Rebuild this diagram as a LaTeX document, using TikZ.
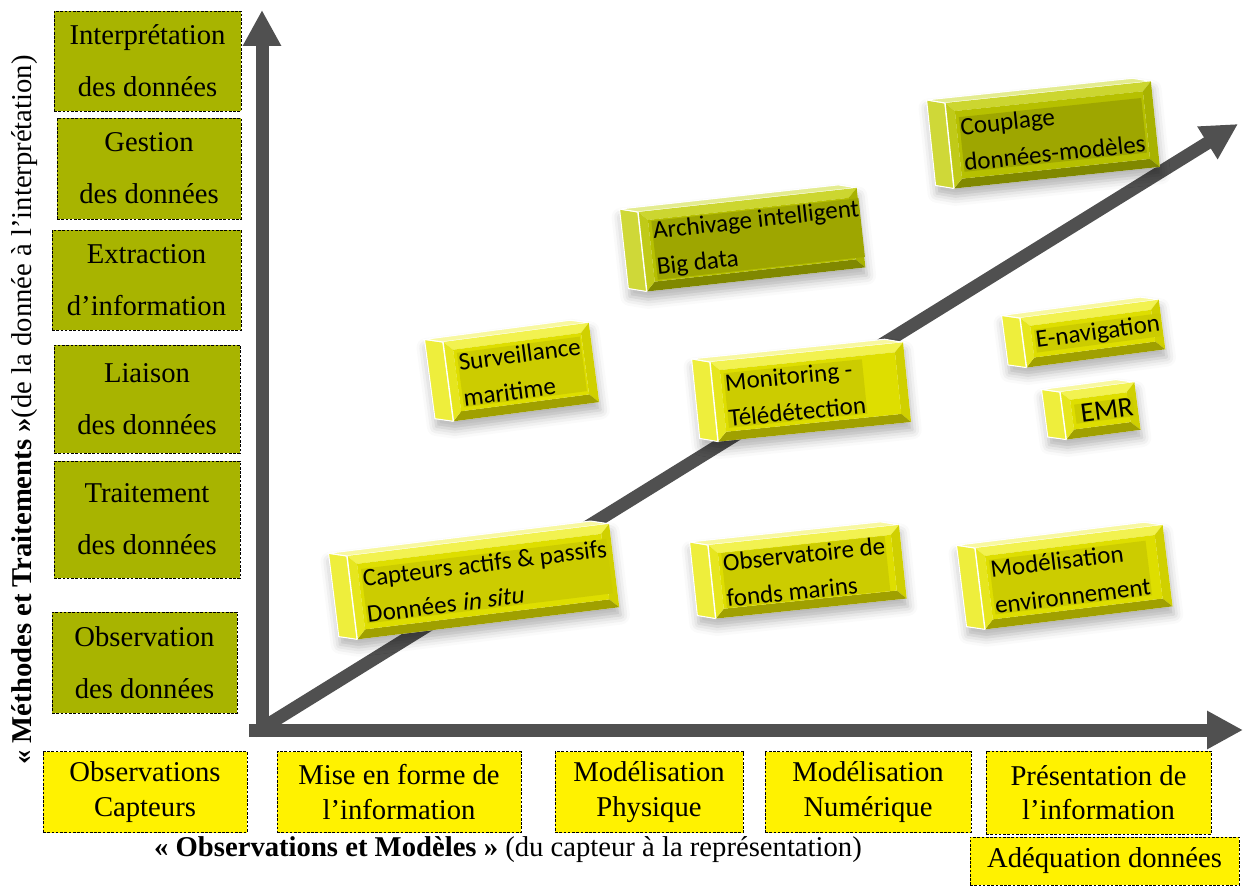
\documentclass[tikz,border=0pt]{standalone}
\usepackage{fontspec}
\setmainfont{Liberation Serif}
\newfontfamily\calfont{Carlito}
\newfontfamily\calitfont{Carlito}[FakeSlant=0.2]
\usetikzlibrary{arrows.meta,shadows.blur}

\definecolor{olivebox}{RGB}{168,180,0}
\definecolor{axisgray}{RGB}{80,80,80}
% bright yellow palette
\definecolor{Yside}{RGB}{238,238,60}
\definecolor{Ytop}{RGB}{248,248,160}
\definecolor{Ylight}{RGB}{242,242,80}
\definecolor{Yleft}{RGB}{230,230,30}
\definecolor{Yright}{RGB}{208,208,0}
\definecolor{Ybottom}{RGB}{160,160,0}
\definecolor{Yinner}{RGB}{222,222,0}
\definecolor{Ytext}{RGB}{204,204,0}
% olive palette
\definecolor{Oside}{RGB}{207,216,56}
\definecolor{Otop}{RGB}{228,236,144}
\definecolor{Olight}{RGB}{204,214,48}
\definecolor{Oleft}{RGB}{192,202,24}
\definecolor{Oright}{RGB}{168,178,0}
\definecolor{Obottom}{RGB}{128,136,0}
\definecolor{Oinner}{RGB}{182,192,0}
\definecolor{Otext}{RGB}{158,166,0}

\tikzset{
  dashbox/.style={draw=black, dash pattern=on 2pt off 1.2pt, line width=0.6pt,
    align=center, inner sep=0pt},
  leftbox/.style={dashbox, fill=olivebox, font=\fontsize{21.5}{39}\selectfont},
  botbox/.style={dashbox, fill=yellow, font=\fontsize{21.5}{26}\selectfont},
  axisarrow/.style={draw=axisgray, line width=9.75pt, -{Triangle[length=27pt,width=27pt]}},
  bevtext/.style={transform shape, align=left, inner sep=0.5pt,
    font=\calfont\fontsize{18.8}{27}\selectfont},
}

% #1 name, #2 x, #3 y (front top-left), #4 width, #5 height, #6 angle, #7 palette, #8 text
\newcommand\bevbox[8]{%
\begin{scope}[shift={(#2,#3)}, rotate=#6]
  \fill[white, blur shadow={shadow xshift=1pt, shadow yshift=-6pt,
        shadow blur radius=7pt, shadow opacity=30}]
    (-18,-5) -- (#4-18,-5) -- (#4,0) -- (#4,#5) -- (0,#5) -- (-18,#5-5) -- cycle;
  \filldraw[fill=#7side, draw=white, line width=0.8pt]
    (0,0) -- (-18,-5) -- (-18,#5-5) -- (0,#5) -- cycle;
  \filldraw[fill=#7top, draw=white, line width=0.8pt]
    (0,0) -- (-18,-5) -- (#4-18,-5) -- (#4,0) -- cycle;
  \fill[#7light] (0,0) -- (#4,0) -- (#4-9,9) -- (9,9) -- cycle;
  \fill[#7right] (#4,0) -- (#4,#5) -- (#4-9,#5-9) -- (#4-9,9) -- cycle;
  \fill[#7bottom] (0,#5) -- (#4,#5) -- (#4-9,#5-9) -- (9,#5-9) -- cycle;
  \fill[#7left] (0,0) -- (0,#5) -- (9,#5-9) -- (9,9) -- cycle;
  \fill[#7inner] (9,9) rectangle (#4-9,#5-9);
  \draw[white, line width=1pt] (0,0) -- (0,#5);
  \node[bevtext, fill=#7text, anchor=west] (#1) at (12,#5/2) {#8};
\end{scope}}

\begin{document}
\begin{tikzpicture}[x=0.75pt, y=-0.75pt]
\useasboundingbox (0,0) rectangle (1245,892);

% left column
\node[leftbox, minimum width=140.25pt, minimum height=75pt] (interp) at (147.5,61) {Interprétation\\des données};
\node[leftbox, minimum width=138pt, minimum height=75.75pt] (gest) at (149,168.5) {Gestion\\des données};
\node[leftbox, minimum width=141.75pt, minimum height=75pt] (extr) at (146.5,280) {Extraction\\d’information};
\node[leftbox, minimum width=139.5pt, minimum height=81pt] (liai) at (147,399) {Liaison\\des données};
\node[leftbox, minimum width=139.5pt, minimum height=87.75pt] (trait) at (147,519.5) {Traitement\\des données};
\node[leftbox, minimum width=138.75pt, minimum height=75.75pt] (obsd) at (144.5,662.5) {Observation\\des données};

% bottom row
\node[botbox, minimum width=153pt, minimum height=60.75pt] (obsc) at (145,792) {Observations\\Capteurs};
\node[botbox, minimum width=183pt, minimum height=60.75pt] (mise) at (399,792) {Mise en forme de\\l’information};
\node[botbox, minimum width=141pt, minimum height=60.75pt] (modp) at (649,792) {Modélisation\\Physique};
\node[botbox, minimum width=154.5pt, minimum height=60.75pt] (modn) at (868,792) {Modélisation\\Numérique};
\node[botbox, minimum width=168.75pt, minimum height=62.25pt] (pres) at (1098.5,792.5) {Présentation de\\l’information};
\node[botbox, minimum width=201.75pt, minimum height=36pt] (adeq) at (1104.5,861) {Adéquation données};

% axis labels
\node[rotate=90, font=\fontsize{21.5}{26}\selectfont, inner sep=0pt] (ylab) at (25,410)
  {\textbf{« Méthodes et Traitements »}(de la donnée à l’interprétation)};
\node[font=\fontsize{21.5}{26}\selectfont, inner sep=0pt] (xlab) at (508,850)
  {\textbf{« Observations et Modèles »} (du capteur à la représentation)};

% axes
\coordinate (Ostart) at (262,737);
\coordinate (Xstart) at (249,730);
\coordinate (Ytip) at (262,10);
\coordinate (Xtip) at (1243,730);
\coordinate (Dstart) at (264,727);
\coordinate (Dtip) at (1238,124);
\draw[axisarrow] (Ostart) -- (Ytip);
\draw[axisarrow] (Xstart) -- (Xtip);
\draw[axisarrow] (Dstart) -- (Dtip);

% 3D boxes
\bevbox{capt}{347}{556}{264}{84}{7}{Y}{Capteurs actifs \& passifs\\Données {\calitfont in situ}}
\bevbox{surv}{443}{342}{147}{80}{7.5}{Y}{Surveillance\\maritime}
\bevbox{arch}{638}{212}{220}{80}{6.3}{O}{Archivage intelligent\\Big data}
\bevbox{moni}{710}{362}{194}{80}{5.8}{Y}{Monitoring -\\Télédétection}
\bevbox{coup}{945}{103}{207}{86}{6}{O}{Couplage\\données-modèles}
\bevbox{enav}{1020}{318}{140}{50}{7.5}{Y}{E-navigation}
\bevbox{emr}{1060}{392}{75}{48}{7.5}{Y}{\fontsize{21}{25}\selectfont\,EMR}
\bevbox{obsf}{708}{545}{192}{74}{6}{Y}{Observatoire de\\fonds marins}
\bevbox{mode}{975}{548}{189}{82}{7}{Y}{Modélisation\\environnement}

\end{tikzpicture}
\end{document}
